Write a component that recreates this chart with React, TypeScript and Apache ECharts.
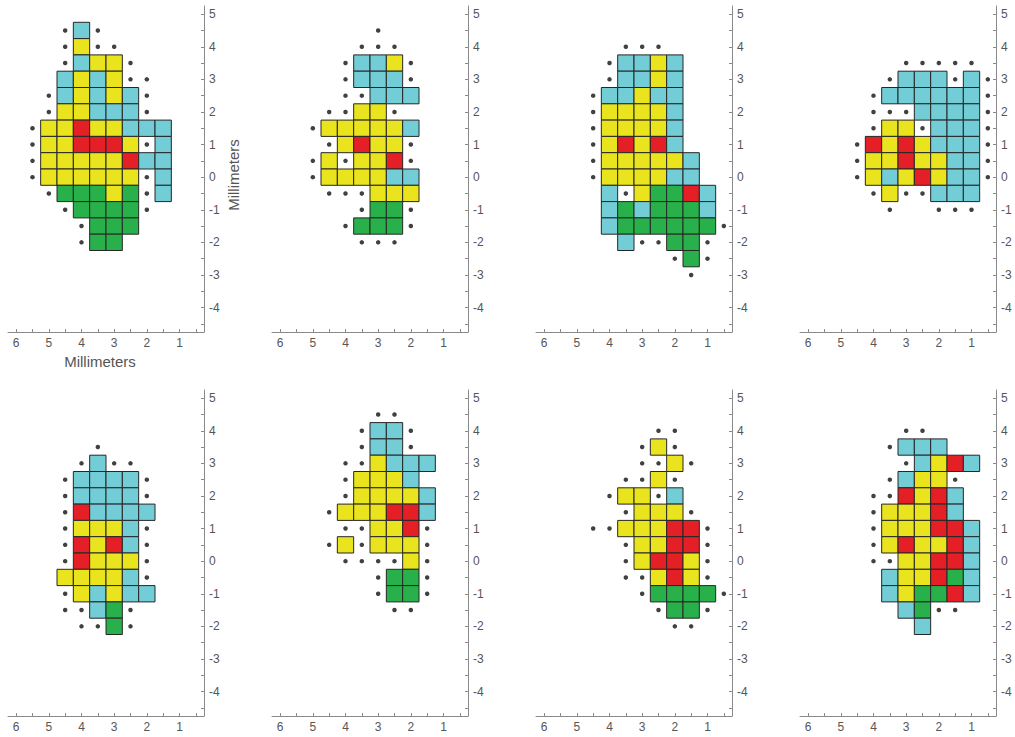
import React, { useEffect, useRef } from "react";
import * as echarts from "echarts";

// Grid positions (mm) for the columns and rows of every map below.
const COLS = [5.5, 5, 4.5, 4, 3.5, 3, 2.5, 2, 1.5, 1, 0.5];
const ROWS = [4.5, 4, 3.5, 3, 2.5, 2, 1.5, 1, 0.5, 0, -0.5, -1, -1.5, -2, -2.5, -3];

// Site maps: Y / C / R / G = coloured site, "." = sampled site without response, " " = none.
const PANEL_1 = [
  "  .C.      ",
  "  .Y..     ",
  "  .CYY.    ",
  "  CYCY..   ",
  " .CYCYC.   ",
  " .YYCCC.   ",
  ".YYRYYCCC  ",
  ".YYRRRY.C  ",
  ".YYYYYRCC  ",
  ".YYYYYY.C  ",
  " .GGGYG.C  ",
  "  .GGGG.   ",
  "   .GGG    ",
  "   .GG     ",
  "           ",
  "           ",
];

const PANEL_2 = [
  "     .     ",
  "    ...    ",
  "   .CCY.   ",
  "   .CCC.   ",
  "   ..CCC   ",
  "  ..YY.    ",
  " .YYYYYC   ",
  "  .YRYY.   ",
  " .Y.YYR.   ",
  " .YYYYCC   ",
  "  ...YYY   ",
  "    .GG.   ",
  "   .GGG.   ",
  "    ...    ",
  "           ",
  "           ",
];

const PANEL_3 = [
  "           ",
  "    ...    ",
  "   .CCYC   ",
  "   .CCYC   ",
  "  .CCYCC   ",
  "  .YYYYC   ",
  "  .YYYYC   ",
  "  .YRYRC   ",
  "  .YYYYYC  ",
  "  .YYYYCC  ",
  "   C.YGGRC ",
  "   CGCGGGC ",
  "   CGGGGGG.",
  "    C..GG. ",
  "       .G. ",
  "        .  ",
];

const PANEL_4 = [
  "           ",
  "           ",
  "     ..... ",
  "    .CCC.C.",
  "   .CCCCCC.",
  "   ...CCCC.",
  "   .YY.CCC.",
  "  .RYRYCCC.",
  "  .YYRYYCC.",
  "  .YCYRYCC.",
  "   .Y..CCC ",
  "    .  ... ",
  "           ",
  "           ",
  "           ",
  "           ",
];

const PANEL_5 = [
  "           ",
  "           ",
  "    .      ",
  "   .C..    ",
  "  .CCCC.   ",
  "  .CCCC.   ",
  "  .RCCCC   ",
  "  .YYYC.   ",
  "  .RYRC.   ",
  "  .RYYY.   ",
  "  YYYYC.   ",
  "  .YCYCC   ",
  "  ..CG.    ",
  "   ..G.    ",
  "           ",
  "           ",
];

const PANEL_6 = [
  "     ..    ",
  "    .CC.   ",
  "    .CC.   ",
  "   ..YCCC  ",
  "   .YYYC   ",
  "   .YYYYC  ",
  "  .YYYRRC  ",
  "   ..YYR.  ",
  "  .Y.YYY.  ",
  "   ....Y.  ",
  "     .GG.  ",
  "     .GG.  ",
  "      ..   ",
  "           ",
  "           ",
  "           ",
];

const PANEL_7 = [
  "           ",
  "      ..   ",
  "     .Y.   ",
  "     ..Y.  ",
  "    ..Y.   ",
  "   .YY.C   ",
  "    .YYY.  ",
  "  ..YYYRR. ",
  "    .YYRR. ",
  "    .YRRY. ",
  "    ..YRY. ",
  "     .GGGG.",
  "      .GG. ",
  "       ..  ",
  "           ",
  "           ",
];

const PANEL_8 = [
  "           ",
  "     ..    ",
  "    .CCC   ",
  "     .CYRC ",
  "    .CYY.  ",
  "   ..RYRC  ",
  "   .YYYRC  ",
  "   .YYYRRC ",
  "   .YRYYRC ",
  "   ..YYRRC ",
  "    CYYRGC ",
  "    CYGGRC ",
  "     CG..  ",
  "      C    ",
  "           ",
  "           ",
];

const PANELS = [PANEL_1, PANEL_2, PANEL_3, PANEL_4, PANEL_5, PANEL_6, PANEL_7, PANEL_8];

// Axis extents and tick positions (mm).
const X_RANGE = [0.25, 6.25];
const Y_RANGE = [-4.75, 5.25];
const X_TICKS = [0.5, 1, 1.5, 2, 2.5, 3, 3.5, 4, 4.5, 5, 5.5, 6];
const X_LABELS = [1, 2, 3, 4, 5, 6];
const Y_TICKS = [-4.5, -4, -3.5, -3, -2.5, -2, -1.5, -1, -0.5, 0, 0.5, 1, 1.5, 2, 2.5, 3, 3.5, 4, 4.5, 5];
const Y_LABELS = [-4, -3, -2, -1, 0, 1, 2, 3, 4, 5];
const AXIS_TITLE = "Millimeters";

const FILL: Record<string, string> = {
  Y: "#E9E41D",
  C: "#72CDD7",
  R: "#E41F26",
  G: "#28B14B",
};

const FONT = "'Liberation Sans', Arial, Helvetica, sans-serif";
const HALF = 0.25; // half a site's width, mm

type Cell = { x: number; y: number; c: string };

function parsePanel(map: string[]) {
  const cells: Cell[] = [];
  const dots: number[][] = [];
  map.forEach((row, ri) => {
    for (let ci = 0; ci < COLS.length; ci++) {
      const ch = row[ci] || " ";
      if (ch === ".") dots.push([COLS[ci], ROWS[ri]]);
      else if (FILL[ch]) cells.push({ x: COLS[ci], y: ROWS[ri], c: ch });
    }
  });
  return { cells, dots };
}

function buildOption() {
  const grid: any[] = [];
  const xAxis: any[] = [];
  const yAxis: any[] = [];
  const series: any[] = [];

  PANELS.forEach((map, i) => {
    const col = i % 4;
    const row = Math.floor(i / 4);
    const { cells, dots } = parsePanel(map);
    const first = i === 0;

    grid.push({
      left: 8 + 264 * col,
      top: 6 + 384 * row,
      width: 196,
      height: 326,
      containLabel: false,
      outerBoundsMode: "none",
    });

    xAxis.push({
      type: "value",
      gridIndex: i,
      min: X_RANGE[0],
      max: X_RANGE[1],
      inverse: true,
      position: "bottom",
      splitLine: { show: false },
      axisLine: { show: true, onZero: false, lineStyle: { color: "#8a8a8a", width: 1 } },
      axisTick: {
        show: true,
        inside: true,
        length: 3,
        customValues: X_TICKS,
        lineStyle: { color: "#8a8a8a" },
      },
      axisLabel: {
        show: true,
        customValues: X_LABELS,
        margin: 5,
        color: "#555",
        fontSize: 12,
        fontFamily: FONT,
      },
      name: first ? AXIS_TITLE : "",
      nameLocation: "middle",
      nameGap: 22,
      nameTextStyle: {
        color: "#555",
        fontSize: 15,
        fontFamily: FONT,
        padding: [0, 12, 0, 0],
      },
    });

    yAxis.push({
      type: "value",
      gridIndex: i,
      min: Y_RANGE[0],
      max: Y_RANGE[1],
      position: "right",
      splitLine: { show: false },
      axisLine: { show: true, onZero: false, lineStyle: { color: "#8a8a8a", width: 1 } },
      axisTick: {
        show: true,
        inside: true,
        length: 3,
        customValues: Y_TICKS,
        lineStyle: { color: "#8a8a8a" },
      },
      axisLabel: {
        show: true,
        customValues: Y_LABELS,
        margin: 5,
        color: "#555",
        fontSize: 12,
        fontFamily: FONT,
      },
      name: first ? AXIS_TITLE : "",
      nameLocation: "middle",
      nameGap: 22,
      nameTextStyle: {
        color: "#555",
        fontSize: 15,
        fontFamily: FONT,
        padding: [0, 12, 0, 0],
      },
    });

    series.push({
      type: "custom",
      xAxisIndex: i,
      yAxisIndex: i,
      data: cells.map((c) => [c.x, c.y]),
      encode: { x: 0, y: 1 },
      renderItem: (params: any, api: any) => {
        const x = api.value(0);
        const y = api.value(1);
        const a = api.coord([x + HALF, y + HALF]);
        const b = api.coord([x - HALF, y - HALF]);
        return {
          type: "rect",
          shape: {
            x: Math.min(a[0], b[0]),
            y: Math.min(a[1], b[1]),
            width: Math.abs(b[0] - a[0]),
            height: Math.abs(b[1] - a[1]),
          },
          style: {
            fill: FILL[cells[params.dataIndex].c],
            stroke: "#262626",
            lineWidth: 1,
          },
        };
      },
    });

    series.push({
      type: "scatter",
      xAxisIndex: i,
      yAxisIndex: i,
      data: dots,
      symbol: "circle",
      symbolSize: 4.5,
      itemStyle: { color: "#111" },
      z: 3,
    });
  });

  return {
    animation: false,
    backgroundColor: "#ffffff",
    grid,
    xAxis,
    yAxis,
    series,
  };
}

export default function App() {
  const ref = useRef<HTMLDivElement>(null);

  useEffect(() => {
    if (!ref.current) return;
    const chart = echarts.init(ref.current, undefined, { renderer: "svg" });
    chart.setOption(buildOption());
    return () => chart.dispose();
  }, []);

  return (
    <div
      ref={ref}
      style={{ position: "fixed", left: 0, top: 0, width: 1015, height: 737, background: "#fff" }}
    />
  );
}
